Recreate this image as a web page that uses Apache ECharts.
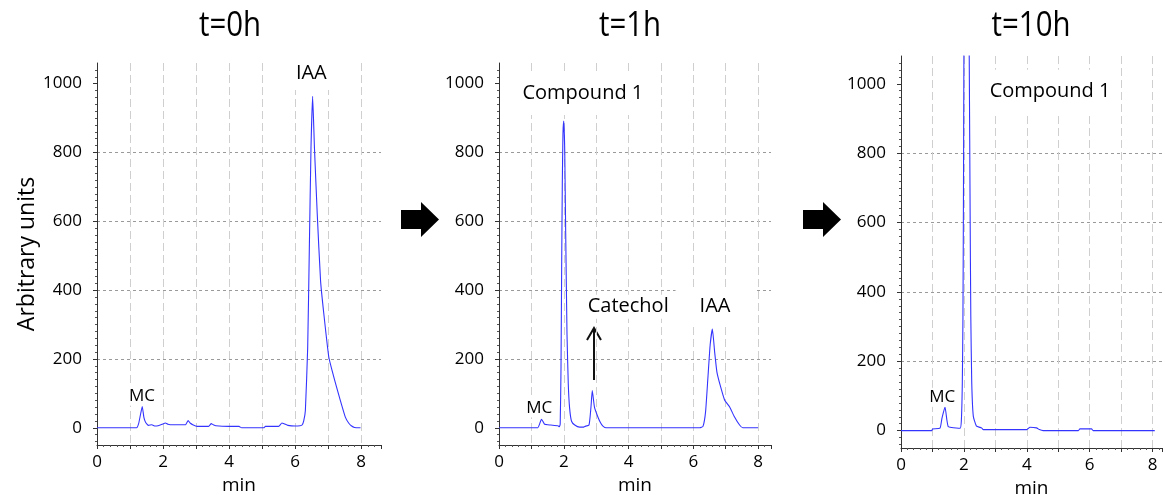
<!DOCTYPE html>
<html><head><meta charset="utf-8">
<script src="https://cdn.jsdelivr.net/npm/echarts@6/dist/echarts.min.js"></script>
<style>html,body{margin:0;padding:0;background:#fff}#c{width:1165px;height:495px}</style>
</head><body><div id="c"></div>
<script>
// ---- data ----
const panelTitles = ['t=0h', 't=1h', 't=10h'];
const xTickLabels = [0, 2, 4, 6, 8];
const yTickLabels = [0, 200, 400, 600, 800, 1000];
const xAxisName = 'min';
const yAxisName = 'Arbitrary units';

// t = 0h
const time0 = [0, 1.2, 1.26, 1.31, 1.37, 1.42, 1.47, 1.56, 1.66, 1.76, 1.85, 1.97, 2.07, 2.15, 2.22, 2.68, 2.76, 2.82, 2.9, 3.03, 3.38, 3.46, 3.52, 3.6, 3.99, 4.3, 4.38, 5.05, 5.1, 5.5, 5.6, 5.68, 5.78, 6.0, 6.15, 6.21, 6.26, 6.31, 6.38, 6.43, 6.48, 6.53, 6.585, 6.67, 6.77, 6.87, 7.02, 7.12, 7.2, 7.37, 7.52, 7.62, 7.7, 7.8, 7.98];
const signal0 = [0, 0, 12, 35, 62, 30, 16, 7, 9, 5, 6, 10, 14, 10, 9, 9, 21, 14, 9, 4, 4, 12, 9, 6, 4, 4, 0, 0, 4, 4, 14, 11, 7, 5, 6, 8, 20, 50, 233, 523, 813, 963, 813, 620, 427, 330, 205, 166, 137, 79, 31, 14, 6, 1, 0];

// t = 1h
const time1 = [0, 1.2, 1.25, 1.31, 1.36, 1.41, 1.6, 1.82, 1.86, 1.89, 1.915, 1.935, 1.955, 1.975, 2.0, 2.03, 2.06, 2.1, 2.14, 2.18, 2.24, 2.34, 2.49, 2.6, 2.65, 2.78, 2.84, 2.88, 2.95, 3.06, 3.14, 3.21, 3.31, 6.2, 6.3, 6.38, 6.45, 6.52, 6.59, 6.66, 6.73, 6.83, 6.97, 7.12, 7.27, 7.43, 7.53, 8.0];
const signal1 = [0, 0, 10, 25, 18, 10, 8, 6, 3, 10, 175, 466, 708, 853, 891, 805, 563, 272, 126, 58, 19, 8, 2, 2, 4, 8, 60, 108, 59, 30, 14, 5, 0, 0, 4, 47, 143, 240, 287, 220, 162, 124, 80, 61, 32, 8, 0, 0];

// t = 10h
const time2 = [0, 0.98, 1.0, 1.24, 1.3, 1.4, 1.46, 1.5, 1.56, 1.88, 1.92, 1.95, 1.97, 1.985, 2.0, 2.03, 2.08, 2.12, 2.17, 2.2, 2.22, 2.25, 2.3, 2.4, 2.56, 2.62, 4.0, 4.1, 4.31, 4.4, 4.52, 5.64, 5.69, 6.06, 6.11, 8.07];
const signal2 = [0, 0, 5, 7, 35, 68, 30, 12, 10, 7, 30, 137, 328, 650, 1077, 1700, 2100, 1700, 1077, 600, 328, 137, 41, 13, 8, 3, 3, 10, 8, 3, 0, 0, 5, 5, 0, 0];

// peak annotations (text, time, signal) per panel
const notes0 = [['IAA', 6.49, 1031], ['MC', 1.36, 92]];
const notes1 = [['Compound 1', 2.59, 973], ['Catechol', 3.99, 352], ['IAA', 6.67, 352], ['MC', 1.245, 58]];
const notes2 = [['Compound 1', 4.74, 977], ['MC', 1.31, 96]];

// ---- chart ----
const times = [time0, time1, time2];
const signals = [signal0, signal1, signal2];
const notes = [notes0, notes1, notes2];
const grids = [
  {left: 97, top: 63, width: 284, height: 382, containLabel: false, outerBoundsMode: 'none'},
  {left: 499, top: 63, width: 272, height: 382, containLabel: false, outerBoundsMode: 'none'},
  {left: 901, top: 56, width: 261, height: 392, containLabel: false, outerBoundsMode: 'none'}
];
const xMax = [8.6, 8.4, 8.3];
const yMax = [1060, 1060, 1080];
const FONT = 'Open Sans';
const axisColor = '#333';
const notePad = {
  'IAA': [7, 24], 'Compound 1': [12, 10], 'Catechol': [2, 3], 'MC': [1, 2]
};

const xAxes = [], yAxes = [], series = [];
for (let i = 0; i < 3; i++) {
  xAxes.push({
    type: 'value', gridIndex: i, min: 0, max: xMax[i], interval: 1,
    axisLine: {onZero: false, lineStyle: {color: axisColor, width: 1}},
    axisTick: {show: true, length: 4, lineStyle: {color: axisColor}},
    minorTick: {show: true, splitNumber: 5, length: 2, lineStyle: {color: '#555'}},
    axisLabel: {formatter: v => xTickLabels.includes(v) ? String(v) : '', fontSize: 17, color: '#000', fontFamily: FONT, margin: 9},
    splitLine: {show: true, showMinLine: false, showMaxLine: false, lineStyle: {color: '#cfcfcf', type: [8, 4], width: 1}},
    name: xAxisName, nameLocation: 'middle', nameGap: 30,
    nameTextStyle: {fontSize: 19, color: '#000', fontFamily: FONT}
  });
  yAxes.push({
    type: 'value', gridIndex: i, min: -50, max: yMax[i],
    axisLine: {show: true, lineStyle: {color: axisColor, width: 1}},
    axisTick: {show: true, length: 4, customValues: yTickLabels, lineStyle: {color: axisColor}},
    minorTick: {show: true, splitNumber: 10, length: 2, lineStyle: {color: '#555'}},
    axisLabel: {customValues: yTickLabels, formatter: v => String(v), fontSize: 17, color: '#000', fontFamily: FONT, margin: 15},
    splitLine: {show: true, showMinLine: false, showMaxLine: false, lineStyle: {color: '#9a9a9a', type: [3, 3], width: 1}},
    name: i === 0 ? yAxisName : '', nameLocation: 'middle', nameGap: 57,
    nameTextStyle: {fontSize: 23, color: '#000', fontFamily: FONT}
  });
  series.push({
    type: 'line', xAxisIndex: i, yAxisIndex: i,
    data: times[i].map((t, k) => [t, signals[i][k]]),
    showSymbol: false, symbol: 'none', smooth: 0.15, clip: true,
    lineStyle: {color: '#3434ff', width: 1.1}, z: 3
  });
  series.push({
    type: 'scatter', xAxisIndex: i, yAxisIndex: i, z: 5, silent: true,
    symbolSize: 1, itemStyle: {color: '#fff', opacity: 1},
    data: notes[i].map(n => ({
      value: [n[1], n[2]], name: n[0],
      label: {padding: notePad[n[0]], fontSize: n[0] === 'MC' ? 17 : 20}
    })),
    label: {show: true, position: 'inside', formatter: p => p.name, color: '#000', opacity: 1,
      fontFamily: FONT, backgroundColor: '#fff'},
    emphasis: {disabled: true}
  });
}

const titleX = [230, 630, 1031];
const graphic = panelTitles.map((t, i) => ({
  type: 'text', x: titleX[i], y: 26, scaleX: 0.84,
  style: {text: t, font: '35px "Open Sans"', fill: '#000', textAlign: 'center', textVerticalAlign: 'middle'}
}));
// big transition arrows
[401, 803].forEach(x0 => {
  graphic.push({
    type: 'polygon',
    shape: {points: [[x0, 210], [x0 + 20, 210], [x0 + 20, 202], [x0 + 38, 219.5], [x0 + 20, 237], [x0 + 20, 229], [x0, 229]]},
    style: {fill: '#000'}
  });
});
// catechol pointer arrow
graphic.push({type: 'line', shape: {x1: 594, y1: 380, x2: 594, y2: 329}, style: {stroke: '#111', lineWidth: 2}});
graphic.push({type: 'polyline', shape: {points: [[587, 340], [594, 328], [601, 340]]}, style: {stroke: '#111', lineWidth: 2, fill: null}});

const chart = echarts.init(document.getElementById('c'), null, {renderer: 'canvas'});
chart.setOption({
  animation: false,
  backgroundColor: '#fff',
  textStyle: {fontFamily: FONT},
  grid: grids,
  xAxis: xAxes,
  yAxis: yAxes,
  series: series,
  graphic: graphic
});
</script></body></html>
